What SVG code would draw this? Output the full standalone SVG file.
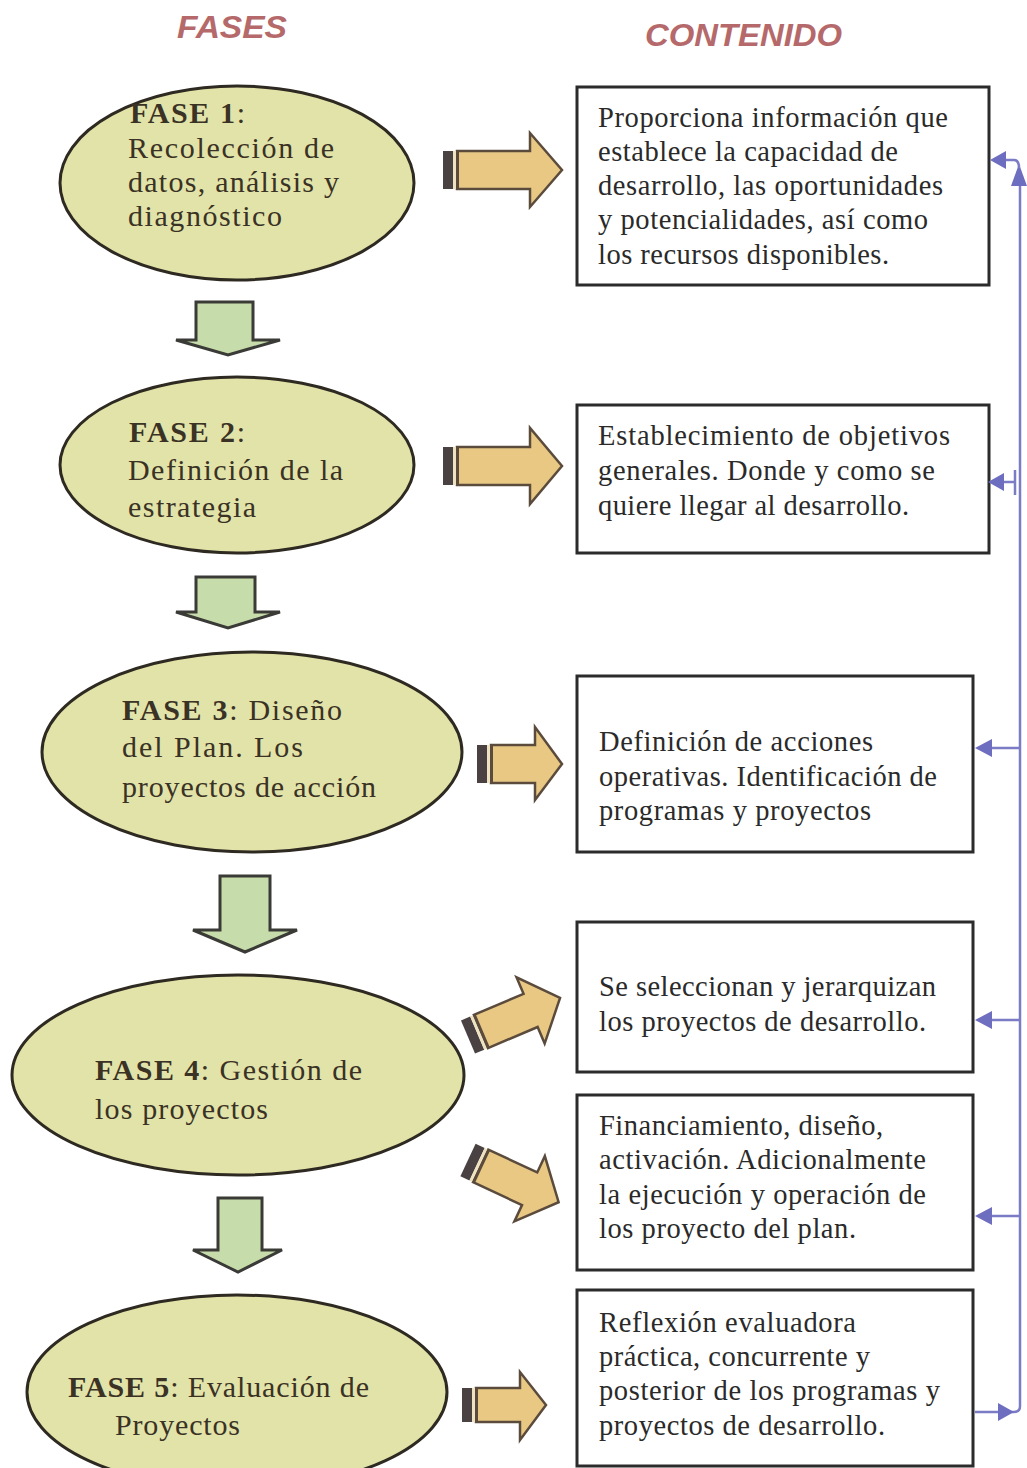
<svg xmlns="http://www.w3.org/2000/svg" width="1027" height="1468" viewBox="0 0 1027 1468">
  <style>
    .hdr { font-family: "Liberation Sans", Arial, sans-serif; font-weight: bold; font-style: italic; font-size: 32px; fill: #b5696a; }
    .fase { fill: #e2e3a9; stroke: #2e2a22; stroke-width: 3; }
    .ftxt { font-family: "Liberation Serif", "Times New Roman", serif; font-size: 30px; fill: #3a3224; }
    .ftxt .b { font-weight: bold; }
    .box { fill: #ffffff; stroke: #2b2b2b; stroke-width: 3; }
    .btxt { font-family: "Liberation Serif", "Times New Roman", serif; font-size: 28.5px; fill: #2a2a2a; }
    .down { fill: #c6dcab; stroke: #3a3a36; stroke-width: 3; stroke-linejoin: miter; }
    .right { fill: #e9c884; stroke: #5b4b3c; stroke-width: 2.5; stroke-linejoin: miter; }
    .tailA { fill: #4a4242; }
    .tailB { fill: #efe2c0; }
    .tailC { fill: #5b4b3c; }
    .fb { fill: none; stroke: #7b7bc6; stroke-width: 2.5; }
    .fbh { fill: #6e6ec0; }
  </style>

  <!-- column headers -->
  <text class="hdr" x="177" y="38" textLength="110" lengthAdjust="spacingAndGlyphs">FASES</text>
  <text class="hdr" x="645" y="46" textLength="197" lengthAdjust="spacingAndGlyphs">CONTENIDO</text>

  <!-- phase nodes -->
  <g id="fase1">
    <ellipse class="fase" cx="237" cy="183" rx="177" ry="97"/>
    <text class="ftxt" x="130" y="123" textLength="115" lengthAdjust="spacing"><tspan class="b">FASE 1</tspan>:</text>
    <text class="ftxt" x="128" y="158" textLength="206" lengthAdjust="spacing">Recolección de</text>
    <text class="ftxt" x="128" y="192" textLength="211" lengthAdjust="spacing">datos, análisis y</text>
    <text class="ftxt" x="128" y="226" textLength="154" lengthAdjust="spacing">diagnóstico</text>
  </g>
  <g id="fase2">
    <ellipse class="fase" cx="237" cy="465" rx="177" ry="88"/>
    <text class="ftxt" x="129" y="442" textLength="116" lengthAdjust="spacing"><tspan class="b">FASE 2</tspan>:</text>
    <text class="ftxt" x="128" y="480" textLength="215" lengthAdjust="spacing">Definición de la</text>
    <text class="ftxt" x="128" y="517" textLength="128" lengthAdjust="spacing">estrategia</text>
  </g>
  <g id="fase3">
    <ellipse class="fase" cx="252" cy="752" rx="210" ry="100"/>
    <text class="ftxt" x="122" y="720" textLength="220" lengthAdjust="spacing"><tspan class="b">FASE 3</tspan>: Diseño</text>
    <text class="ftxt" x="122" y="757" textLength="181" lengthAdjust="spacing">del Plan.  Los</text>
    <text class="ftxt" x="122" y="797" textLength="254" lengthAdjust="spacing">proyectos de acción</text>
  </g>
  <g id="fase4">
    <ellipse class="fase" cx="238" cy="1075" rx="226" ry="100"/>
    <text class="ftxt" x="95" y="1080" textLength="267" lengthAdjust="spacing"><tspan class="b">FASE 4</tspan>: Gestión de</text>
    <text class="ftxt" x="95" y="1119" textLength="173" lengthAdjust="spacing">los proyectos</text>
  </g>
  <g id="fase5">
    <ellipse class="fase" cx="237" cy="1392" rx="210" ry="97"/>
    <text class="ftxt" x="68" y="1397" textLength="301" lengthAdjust="spacing"><tspan class="b">FASE 5</tspan>: Evaluación de</text>
    <text class="ftxt" x="115" y="1435" textLength="125" lengthAdjust="spacing">Proyectos</text>
  </g>

  <!-- content nodes -->
  <g id="contenido1">
    <rect class="box" x="577" y="87" width="412" height="198"/>
    <text class="btxt" x="598" y="127" textLength="350" lengthAdjust="spacing">Proporciona información que</text>
    <text class="btxt" x="598" y="161" textLength="300" lengthAdjust="spacing">establece la capacidad de</text>
    <text class="btxt" x="598" y="195" textLength="345" lengthAdjust="spacing">desarrollo, las oportunidades</text>
    <text class="btxt" x="598" y="229" textLength="330" lengthAdjust="spacing">y potencialidades, así como</text>
    <text class="btxt" x="598" y="264" textLength="291" lengthAdjust="spacing">los recursos disponibles.</text>
  </g>
  <g id="contenido2">
    <rect class="box" x="577" y="405" width="412" height="148"/>
    <text class="btxt" x="598" y="445" textLength="352" lengthAdjust="spacing">Establecimiento de  objetivos</text>
    <text class="btxt" x="598" y="480" textLength="337" lengthAdjust="spacing">generales. Donde y como se</text>
    <text class="btxt" x="598" y="515" textLength="311" lengthAdjust="spacing">quiere llegar al desarrollo.</text>
  </g>
  <g id="contenido3">
    <rect class="box" x="577" y="676" width="396" height="176"/>
    <text class="btxt" x="599" y="751" textLength="274" lengthAdjust="spacing">Definición de acciones</text>
    <text class="btxt" x="599" y="786" textLength="338" lengthAdjust="spacing">operativas. Identificación de</text>
    <text class="btxt" x="599" y="820" textLength="272" lengthAdjust="spacing">programas y proyectos</text>
  </g>
  <g id="contenido4">
    <rect class="box" x="577" y="922" width="396" height="150"/>
    <text class="btxt" x="599" y="996" textLength="337" lengthAdjust="spacing">Se seleccionan y jerarquizan</text>
    <text class="btxt" x="599" y="1031" textLength="327" lengthAdjust="spacing">los proyectos de desarrollo.</text>
  </g>
  <g id="contenido5">
    <rect class="box" x="577" y="1095" width="396" height="175"/>
    <text class="btxt" x="599" y="1135" textLength="284" lengthAdjust="spacing">Financiamiento, diseño,</text>
    <text class="btxt" x="599" y="1169" textLength="327" lengthAdjust="spacing">activación. Adicionalmente</text>
    <text class="btxt" x="599" y="1204" textLength="327" lengthAdjust="spacing">la ejecución y operación de</text>
    <text class="btxt" x="599" y="1238" textLength="257" lengthAdjust="spacing">los proyecto del plan.</text>
  </g>
  <g id="contenido6">
    <rect class="box" x="577" y="1290" width="396" height="176"/>
    <text class="btxt" x="599" y="1332" textLength="257" lengthAdjust="spacing">Reflexión evaluadora</text>
    <text class="btxt" x="599" y="1366" textLength="271" lengthAdjust="spacing">práctica, concurrente y</text>
    <text class="btxt" x="599" y="1400" textLength="341" lengthAdjust="spacing">posterior de los programas y</text>
    <text class="btxt" x="599" y="1435" textLength="286" lengthAdjust="spacing">proyectos de desarrollo.</text>
  </g>

  <g id="connectors">
    <!-- phase-to-phase block arrows -->
    <path class="down" d="M196,302 H253 V340 H280 L228,355 L176,340 H196 Z"/>
    <path class="down" d="M196,577 H255 V612 H280 L228,628 L176,612 H196 Z"/>
    <path class="down" d="M220,876 H270 V930 H297 L245,952 L193,930 H220 Z"/>
    <path class="down" d="M218,1198 H262 V1250 H282 L238,1272 L193,1250 H218 Z"/>

    <!-- phase-to-content block arrows -->
    <g>
      <path class="right" d="M457,151 H530 V133 L562,170 L530,207 V189 H457 Z"/>
      <rect class="tailA" x="443" y="151" width="10" height="38"/>
      <rect class="tailB" x="453" y="151" width="3" height="38"/>
      <rect class="tailC" x="456" y="151" width="3" height="38"/>
    </g>
    <g>
      <path class="right" d="M457,447 H530 V428 L562,466 L530,504 V485 H457 Z"/>
      <rect class="tailA" x="443" y="447" width="10" height="38"/>
      <rect class="tailB" x="453" y="447" width="3" height="38"/>
      <rect class="tailC" x="456" y="447" width="3" height="38"/>
    </g>
    <g>
      <path class="right" d="M491,745 H535 V727 L562,764 L535,800 V783 H491 Z"/>
      <rect class="tailA" x="477" y="745" width="10" height="38"/>
      <rect class="tailB" x="487" y="745" width="3" height="38"/>
      <rect class="tailC" x="490" y="745" width="3" height="38"/>
    </g>
    <g transform="translate(468,1037) rotate(-23)">
      <path class="right" d="M14,-18 H68 V-36 L100,0 L68,36 V18 H14 Z"/>
      <rect class="tailA" x="0" y="-18" width="10" height="36"/>
      <rect class="tailB" x="10" y="-18" width="3" height="36"/>
      <rect class="tailC" x="13" y="-18" width="3" height="36"/>
    </g>
    <g transform="translate(468,1160) rotate(25)">
      <path class="right" d="M14,-18 H68 V-36 L100,0 L68,36 V18 H14 Z"/>
      <rect class="tailA" x="0" y="-18" width="10" height="36"/>
      <rect class="tailB" x="10" y="-18" width="3" height="36"/>
      <rect class="tailC" x="13" y="-18" width="3" height="36"/>
    </g>
    <g>
      <path class="right" d="M476,1388 H520 V1372 L546,1405 L520,1440 V1422 H476 Z"/>
      <rect class="tailA" x="462" y="1388" width="10" height="34"/>
      <rect class="tailB" x="472" y="1388" width="3" height="34"/>
      <rect class="tailC" x="475" y="1388" width="3" height="34"/>
    </g>

    <!-- feedback loop on the right -->
    <path class="fb" d="M975,1412 H1014 Q1020,1412 1020,1406 V182"/>
    <polygon class="fbh" points="1019,164 1011,186 1027,186"/>
    <path class="fb" d="M1003,160 H1014 Q1019,160 1019,168"/>
    <polygon class="fbh" points="990,160 1006,151 1006,169"/>
    <path class="fb" d="M1000,482 H1015 M1015,470 V495"/>
    <polygon class="fbh" points="988,482 1004,473 1004,491"/>
    <path class="fb" d="M990,748 H1020"/>
    <polygon class="fbh" points="975,748 992,739 992,757"/>
    <path class="fb" d="M990,1020 H1020"/>
    <polygon class="fbh" points="975,1020 992,1011 992,1029"/>
    <path class="fb" d="M990,1216 H1020"/>
    <polygon class="fbh" points="975,1216 992,1207 992,1225"/>
    <polygon class="fbh" points="1014,1412 998,1403 998,1421"/>
  </g>
</svg>
